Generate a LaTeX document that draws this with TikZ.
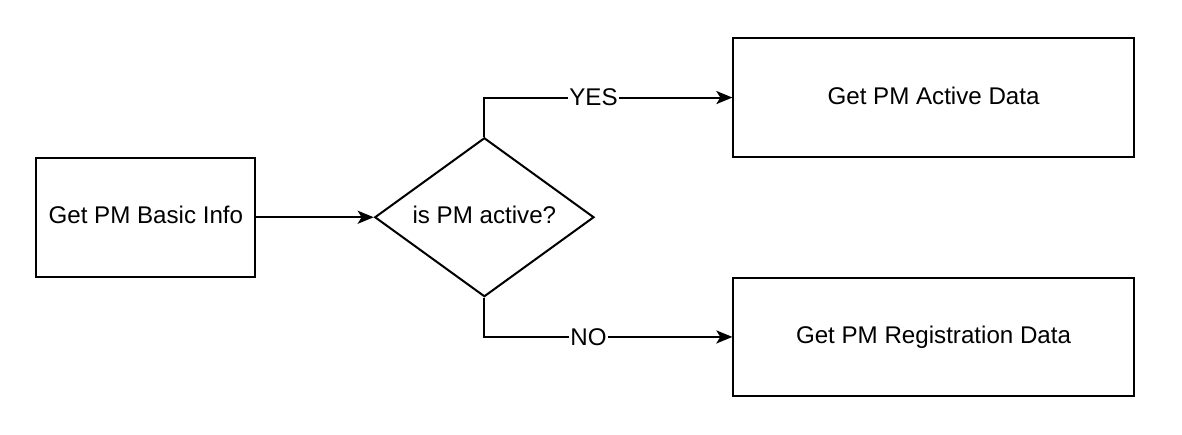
\documentclass[tikz,border=0pt]{standalone}
\usepackage{fontspec}
\setmainfont{Liberation Sans}
\usepackage{tikz}
\usetikzlibrary{matrix,arrows.meta,positioning,shapes.geometric}

\tikzset{
  stepbox/.style={draw, line width=1pt, minimum width=109pt, minimum height=59pt},
  decision/.style={draw, diamond, line width=1pt, aspect=1.375, inner sep=0pt,
    minimum width=109pt, minimum height=79pt},
  answer/.style={fill=white, inner sep=0.5pt, font=\fontsize{12}{14}\selectfont}
}

\begin{document}
\begin{tikzpicture}
\matrix(m)[matrix of nodes, row sep={59.5pt,between origins}, column sep=58.5pt,
nodes={font=\fontsize{12}{14}\selectfont}, text height=1.5ex, text depth=0.25ex]
{ & &[10pt] |[stepbox, minimum width=199pt]| Get PM Active Data\\
|[stepbox]| Get PM Basic Info & |[decision]| is PM active? &[10pt] \\
 & &[10pt] |[stepbox, minimum width=199pt]| Get PM Registration Data\\};
\path[->,line width=1pt,>={Stealth[length=8pt,width=6.5pt,inset=2pt]}](m-2-1) edge (m-2-2);
\path[->,line width=1pt,>={Stealth[length=8pt,width=6.5pt,inset=2pt]}](m-2-2.north) edge[to path={|- (\tikztotarget) \tikztonodes}] node[answer,pos=0.72]{YES} (m-1-3.west);
\path[->,line width=1pt,>={Stealth[length=8pt,width=6.5pt,inset=2pt]}](m-2-2.south) edge[to path={|- (\tikztotarget) \tikztonodes}] node[answer,pos=0.71]{NO} (m-3-3.west);
% page margins
\coordinate (tl) at (m-2-1.west |- m-1-3.north);
\path[use as bounding box] ([shift={(-17.5pt,18.5pt)}]tl) rectangle ([shift={(23.5pt,-18.5pt)}]m-3-3.south east);
\end{tikzpicture}
\end{document}
